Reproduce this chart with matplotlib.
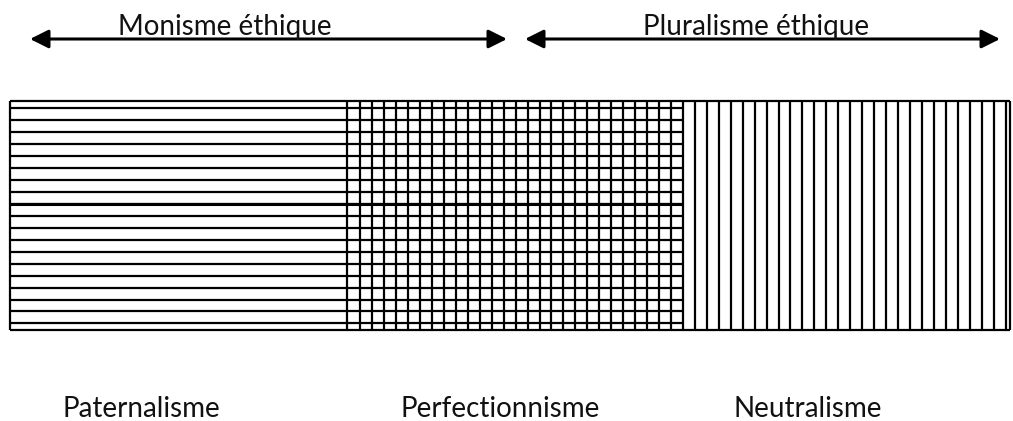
import numpy as np
import matplotlib
matplotlib.use("Agg")
import matplotlib.pyplot as plt

# pixel-like coordinates, y grows downwards
W, H = 1013, 421

categories = ["Paternalisme", "Perfectionnisme", "Neutralisme"]
panel_edges = [10, 347, 683, 1010]
hatch_h = [True, True, False]   # horizontal lines
hatch_v = [False, True, True]   # vertical lines
label_x = [141, 500, 808]
label_y = 409

band_top, band_bottom = 100.5, 330
line_step = 11.95
h_start = 108.3
v_start = 360.3

arrows = [("Monisme éthique", 30, 507, 225), ("Pluralisme éthique", 525, 1000, 756)]
arrow_y = 39

fig = plt.figure(figsize=(W / 100, H / 100), dpi=100)
ax = fig.add_axes([0, 0, 1, 1])
ax.set_xlim(0, W)
ax.set_ylim(H, 0)
ax.axis("off")

lw = 1.6
font = dict(family="Lato", fontsize=20, color="#111111")

# hatch lines
ys = np.arange(h_start, band_bottom - 3, line_step)
xs = np.arange(v_start, panel_edges[-1] - 1, line_step)
for i, name in enumerate(categories):
    x0, x1 = panel_edges[i], panel_edges[i + 1]
    if hatch_h[i]:
        ax.hlines(ys, x0, x1, color="black", lw=lw)
    if hatch_v[i]:
        xv = xs[(xs > x0 + 2) & (xs < x1 - 2)]
        ax.vlines(xv, band_top, band_bottom, color="black", lw=lw)
    ax.text(label_x[i], label_y, name, ha="center", va="center", **font)

# panel borders
ax.hlines([band_top, band_bottom], panel_edges[0], panel_edges[-1], color="black", lw=lw)
ax.vlines(panel_edges, band_top, band_bottom, color="black", lw=lw)
# the middle horizontal line is a bit heavier
ax.hlines(ys[8], panel_edges[0], panel_edges[2], color="black", lw=2.2)

# double arrows on top
for text, xa, xb, xt in arrows:
    ax.annotate("", xy=(xa, arrow_y), xytext=(xb, arrow_y),
                arrowprops=dict(arrowstyle="<|-|>", color="black", lw=2.2,
                                mutation_scale=28, shrinkA=0, shrinkB=0))
    ax.text(xt, arrow_y - 4, text, ha="center", va="baseline", **font)

fig.savefig("out.png", dpi=100)
